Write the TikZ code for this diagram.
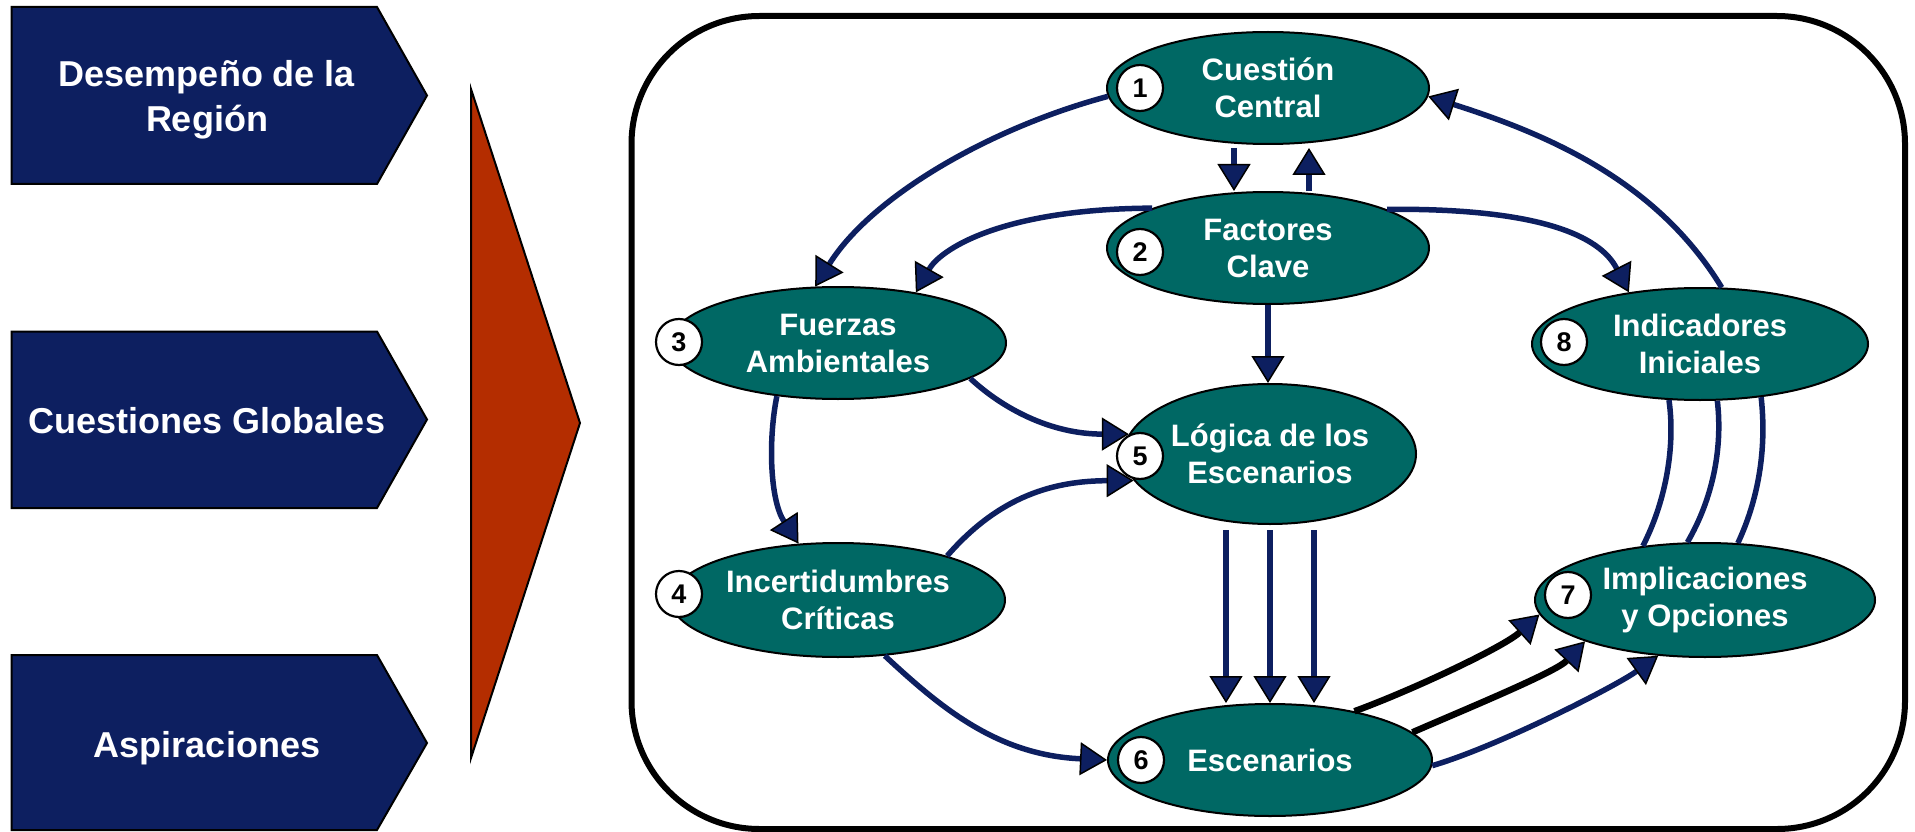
\documentclass[tikz,border=0pt]{standalone}
\usepackage{fontspec}
\setmainfont{Liberation Sans}
\usetikzlibrary{arrows.meta,shapes.geometric}
\definecolor{navy}{RGB}{13,31,96}
\definecolor{tealf}{RGB}{0,104,100}
\definecolor{redf}{RGB}{180,45,0}
\begin{document}
\begin{tikzpicture}[x=1pt,y=-1pt,
  ell/.style={ellipse, draw=black, line width=2pt, fill=tealf, inner sep=0pt, text=white, align=center, font=\bfseries\fontsize{31}{37}\selectfont},
  num/.style={circle, draw=black, line width=2.2pt, fill=white, minimum size=46pt, inner sep=0pt, font=\bfseries\fontsize{27}{27}\selectfont},
  chev/.style={draw=black, line width=2pt, fill=navy},
  chevtext/.style={text=white, align=center, font=\bfseries\fontsize{36}{45}\selectfont},
  navytip/.tip={Triangle[length=27pt,width=33pt,color=black,fill=navy,line width=1.5pt]},
  arr/.style={draw=navy, line width=5.5pt, arrows={-navytip}},
  blkarr/.style={draw=black, line width=6.5pt, arrows={-navytip}},
  ln/.style={draw=navy, line width=5.5pt},
  frame/.style={draw=black, line width=6pt, rounded corners=128pt}
]
\useasboundingbox (0,0) rectangle (1915,832);

% left chevrons
\draw[chev] (11.5,7) -- (377,7) -- (427,95.5) -- (377,184) -- (11.5,184) -- cycle;
\draw[chev] (11.5,331.5) -- (377,331.5) -- (427,419.5) -- (377,508) -- (11.5,508) -- cycle;
\draw[chev] (11.5,655) -- (377,655) -- (427,743) -- (377,830) -- (11.5,830) -- cycle;
\node[chevtext] (t1) at (207,100) {Desempeño de la\\Región};
\node[chevtext] (t2) at (207,421) {Cuestiones Globales};
\node[chevtext] (t3) at (207,748) {Aspiraciones};

% red triangle
\draw[draw=black, line width=2pt, fill=redf] (471,89) -- (580,423) -- (471,758) -- cycle;

% frame
\draw[frame] (631.5,16) rectangle (1905,829);

% ellipses
\node[ell, minimum width=322pt, minimum height=112pt] (n1) at (1268,88) {Cuestión\\Central};
\node[ell, minimum width=322pt, minimum height=112pt] (n2) at (1268,248) {Factores\\Clave};
\node[ell, minimum width=336pt, minimum height=112pt] (n3) at (838,343) {Fuerzas\\Ambientales};
\node[ell, minimum width=334pt, minimum height=114pt] (n4) at (838,600) {Incertidumbres\\Críticas};
\node[ell, minimum width=292pt, minimum height=140pt] (n5) at (1270,454) {Lógica de los\\Escenarios};
\node[ell, minimum width=324pt, minimum height=112pt] (n6) at (1270,760) {Escenarios};
\node[ell, minimum width=340pt, minimum height=114pt] (n7) at (1705,600) {Implicaciones\\y Opciones};
\node[ell, minimum width=336pt, minimum height=112pt] (n8) at (1700,344) {Indicadores\\Iniciales};

% number circles
\node[num] (c1) at (1140,88) {1};
\node[num] (c2) at (1140,252) {2};
\node[num] (c3) at (679,342) {3};
\node[num] (c4) at (679,594) {4};
\node[num] (c5) at (1140,456) {5};
\node[num] (c6) at (1141,760) {6};
\node[num] (c7) at (1568,595) {7};
\node[num] (c8) at (1564,342) {8};

% connectors
\draw[arr] (n1.183) .. controls (990,128) and (872,196) .. (n3.112);
\draw[arr] (n2.161) .. controls (1000,209) and (940,250) .. (n3.33);
\draw[arr] (n2.18) .. controls (1540,208) and (1600,236) .. (n8.144);
\draw[arr] (n8.69) .. controls (1657,181) and (1548,134.5) .. (n1.357);
\draw[arr] ([xshift=-34pt,yshift=-3pt]n1.south) -- ([xshift=-34pt]n2.north);
\draw[arr] ([xshift=41pt]n2.north) -- ([xshift=41pt,yshift=-3pt]n1.south);
\draw[arr] (n2.south) -- (n2.south |- n5.north);
\draw[arr] (n3.221) .. controls (768,440) and (770,500) .. (n4.125);
\draw[arr] (n3.345) .. controls (1002,408) and (1050,434) .. (n5.172);
\draw[arr] (n4.22) .. controls (1000,495) and (1055,481) .. (n5.191);
\draw[arr] (n4.310) .. controls (942,709) and (998,755) .. (n6.west);
\draw[arr] ([xshift=-44pt,yshift=-5pt]n5.south) -- ([xshift=-44pt]n6.north);
\draw[arr] ([yshift=-5pt]n5.south) -- (n6.north);
\draw[arr] ([xshift=44pt,yshift=-5pt]n5.south) -- ([xshift=44pt]n6.north);
\draw[blkarr] (n6.30) .. controls (1410,691) and (1503,647.5) .. (n7.185);
\draw[blkarr] (n6.11) .. controls (1466,709) and (1556,672) .. (n7.199);
\draw[arr] (n6.358) .. controls (1499,746) and (1616,686) .. (n7.230);
\draw[ln] (n8.241) .. controls (1676,450) and (1664,505) .. (n7.139);
\draw[ln] (n8.287) .. controls (1723,450) and (1712,500) .. (n7.107.5);
\draw[ln] (n8.319) .. controls (1767,450) and (1758,500) .. (n7.60);
\end{tikzpicture}
\end{document}
